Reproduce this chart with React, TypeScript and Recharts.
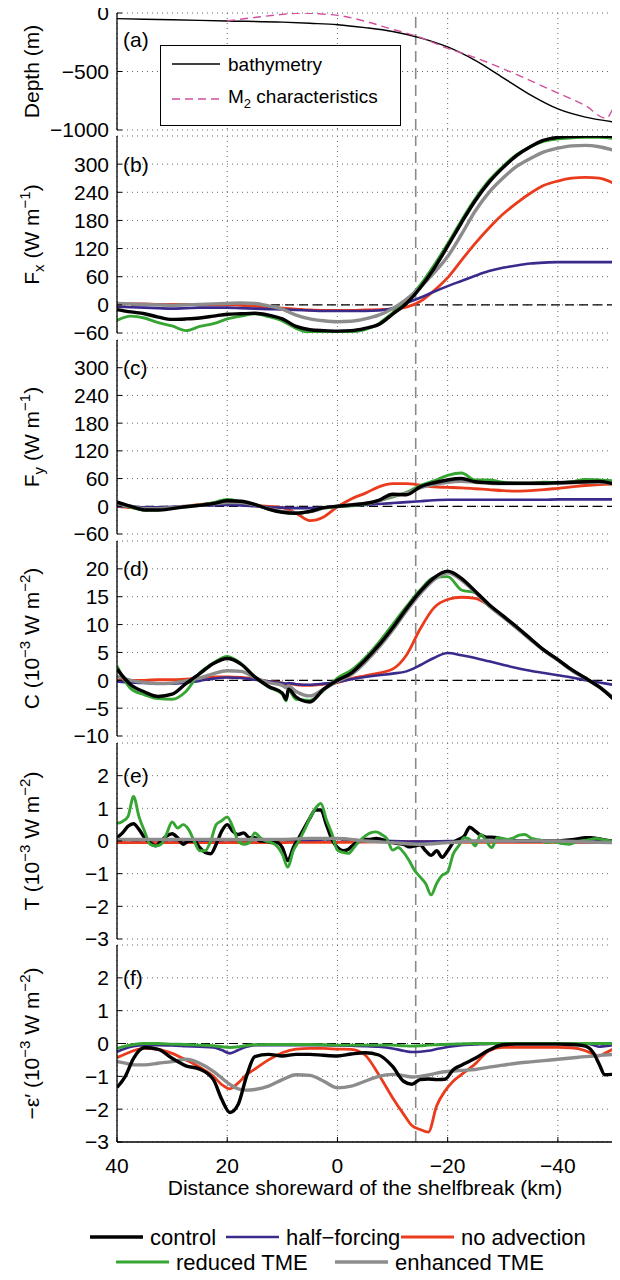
import React from 'react';
import { LineChart, Line, XAxis, YAxis, CartesianGrid, ReferenceLine, ReferenceDot } from 'recharts';

const FONT = '"Liberation Sans", Arial, Helvetica, sans-serif';
const MINUS = '\u2212';

// distance shoreward of the shelfbreak (km)
const xTicks = [40, 20, 0, -20, -40];
const shelfbreakKm = -14.2;

// (a) depth profile
const bathyKm = [40, 30, 20, 10, 5, 0, -5, -10, -15, -20, -25, -30, -35, -40, -45, -50];
const bathyDepth = [-48, -58, -68, -78, -88, -100, -125, -158, -212, -290, -405, -552, -700, -820, -890, -930];
const m2Km = [20, 15, 10, 6.5, 3, 0, -5, -10, -14.2, -20, -25, -30, -35, -40, -45, -48.7, -50];
const m2Depth = [-68, -38, -12, 0, -8, -20, -70, -140, -195, -302, -382, -475, -578, -684, -792, -900, -815];

// (b),(c) energy flux, W/m
const fluxKm = [40, 37.5, 35, 32.5, 30, 27.5, 25, 22.5, 20, 17.5, 15, 12.5, 10, 7.5, 5, 2.5, 0, -2.5, -5, -7.5, -10, -12.5, -15, -17.5, -20, -22.5, -25, -27.5, -30, -32.5, -35, -37.5, -40, -42.5, -45, -47.5, -50];
const fxControl = [-10, -15, -19, -26, -31, -30, -28, -24, -20, -19, -18, -22, -30, -46, -53, -55, -56, -55, -50, -42, -20, 3, 36, 77, 125, 175, 222, 261, 292, 318, 337, 351, 357, 359, 360, 360, 359];
const fxHalf = [-4, -5, -6, -7, -8, -7, -6, -6, -6, -7, -8, -9, -10, -11, -12, -13, -13, -13, -13, -12, -7, 4, 15, 28, 40, 51, 62, 72, 79, 84, 88, 90, 91, 91, 91, 91, 91];
const fxNoAdv = [2, 2, 2, 1, 1, 1, 0, 0, 0, -1, -3, -5, -7, -9, -11, -12, -12, -12, -11, -10, -9, -5, 7, 30, 58, 95, 131, 164, 193, 217, 238, 255, 264, 270, 272, 270, 260];
const fxReduced = [-33, -24, -28, -38, -45, -55, -46, -40, -30, -24, -19, -25, -34, -50, -59, -60, -60, -58, -53, -40, -17, 8, 42, 84, 130, 180, 226, 265, 295, 320, 337, 349, 354, 356, 357, 357, 355];
const fxEnhanced = [3, 2, 1, 0, -1, 0, 1, 2, 3, 4, 3, -2, -9, -22, -30, -34, -36, -35, -30, -22, -8, 12, 37, 68, 103, 150, 200, 240, 270, 295, 312, 326, 334, 339, 340, 337, 330];

const fyControl = [9, 0, -8, -8, -5, -1, 2, 6, 12, 11, 4, -6, -13, -15, -11, -3, 0, 3, 6, 13, 26, 25, 42, 51, 57, 60, 53, 51, 50, 50, 50, 50, 51, 52, 53, 54, 49];
const fyHalf = [0, -1, -2, -2, -1, 0, 1, 2, 3, 2, 0, -2, -3, -4, -4, -3, -1, 1, 3, 5, 7, 9, 11, 13, 14, 14, 14, 14, 14, 14, 14, 14, 15, 15, 15, 15, 15];
const fyNoAdv = [0, -3, -5, -5, -3, 0, 4, 7, 8, 5, 2, 0, -3, -15, -31, -23, -1, 16, 28, 42, 49, 49, 46, 42, 41, 40, 38, 36, 34, 33, 34, 36, 39, 42, 45, 47, 48];
const fyReduced = [5, -2, -8, -8, -4, -1, 3, 8, 15, 10, 4, -6, -13, -15, -11, -4, -1, 1, 4, 12, 20, 30, 45, 55, 67, 72, 57, 57, 52, 50, 50, 52, 51, 53, 58, 57, 55];
const fyEnhanced = [4, 0, -5, -5, -3, 0, 2, 5, 8, 8, 3, -5, -11, -14, -12, -4, 0, 3, 6, 12, 22, 28, 40, 47, 52, 54, 52, 50, 49, 49, 49, 49, 50, 51, 52, 52, 50];

// (d) conversion, 1e-3 W/m2
const convKm = [40, 37.5, 35, 32.5, 30, 27.5, 25, 22.5, 20, 17.5, 15, 12.5, 10, 9.3, 8.9, 7.5, 5, 2.5, 0, -2.5, -5, -7.5, -10, -12.5, -15, -17.5, -20, -22.5, -25, -27.5, -30, -32.5, -35, -37.5, -40, -42.5, -45, -47.5, -50];
const cControl = [2.0, -0.8, -2.1, -2.9, -2.5, -0.6, 1.2, 3.0, 3.9, 2.9, 0.6, -1.1, -2.3, -3.4, -1.6, -3.0, -3.9, -1.6, 0.0, 1.3, 3.6, 6.3, 9.4, 12.8, 15.9, 18.4, 19.6, 18.3, 16.0, 13.6, 11.6, 9.6, 7.5, 5.4, 3.7, 1.9, 0.4, -1.2, -3.3];
const cHalf = [-0.2, -0.4, -0.5, -0.6, -0.6, -0.4, -0.1, 0.3, 0.5, 0.4, 0.1, -0.2, -0.5, -0.6, -0.5, -0.7, -0.8, -0.6, -0.3, 0.2, 0.6, 0.9, 1.2, 1.6, 2.7, 4.0, 4.9, 4.5, 4.0, 3.4, 2.8, 2.2, 1.7, 1.3, 0.9, 0.5, 0.0, -0.4, -0.8];
const cNoAdv = [0.0, 0.0, 0.0, 0.1, 0.1, 0.2, 0.4, 0.6, 0.6, 0.5, 0.2, -0.2, -0.5, -0.9, -0.6, -0.8, -0.9, -0.7, -0.4, 0.3, 0.8, 1.3, 2.0, 4.5, 9.2, 13.0, 14.5, 14.9, 14.7, 13.4, 11.5, 9.5, 7.4, 5.4, 3.7, 1.9, 0.4, -1.2, -3.2];
const cReduced = [2.6, -1.5, -2.6, -3.3, -3.4, -2.0, 1.3, 3.1, 4.3, 3.0, 0.6, -1.2, -2.5, -3.7, -1.8, -3.4, -3.6, -1.8, 0.4, 1.8, 4.0, 6.8, 10.0, 13.2, 16.2, 18.4, 18.6, 16.2, 15.7, 13.3, 11.4, 9.4, 7.4, 5.4, 3.6, 1.8, 0.4, -1.2, -3.1];
const cEnhanced = [0.7, 0.0, -0.4, -0.6, -0.5, -0.1, 0.4, 1.2, 1.7, 1.6, 0.5, -0.4, -0.9, -1.3, -1.0, -2.0, -2.8, -1.6, -0.2, 1.0, 3.2, 5.9, 9.0, 12.4, 15.5, 18.0, 19.3, 18.0, 15.8, 13.4, 11.4, 9.4, 7.3, 5.3, 3.6, 1.8, 0.3, -1.2, -3.1];

// (e) transfer, 1e-3 W/m2 (noisy runs on a 1 km grid)
const tFineKm = [40, 39, 38, 37, 36, 35, 34, 33, 32, 31, 30, 29, 28, 27, 26, 25, 24, 23, 22, 21, 20, 19, 18, 17, 16, 15, 14, 13, 12, 11, 10, 9, 8, 7, 6, 5, 4, 3, 2, 1, 0, -1, -2, -3, -4, -5, -6, -7, -8, -9, -10, -11, -12, -13, -14, -15, -16, -17, -18, -19, -20, -21, -22, -23, -24, -25, -26, -27, -28, -29, -30, -31, -32, -33, -34, -35, -36, -37, -38, -39, -40, -41, -42, -43, -44, -45, -46, -47, -48, -49, -50];
const tControl = [
  0.1, 0.25, 0.45, 0.53, 0.35, 0.1, -0.05, -0.15, 0.0, 0.15,
  0.22, 0.1, -0.1, 0.0, 0.0, -0.2, -0.35, -0.39, -0.1, 0.3,
  0.5, 0.3, 0.2, 0.25, 0.1, 0.1, 0.0, 0.0, -0.05, -0.05,
  -0.2, -0.6, -0.2, 0.1, 0.4, 0.7, 0.95, 0.95, 0.5, 0.05,
  -0.2, -0.3, -0.25, -0.1, 0.0, 0.05, 0.05, 0.08, 0.05, 0.0,
  -0.05, -0.08, -0.1, -0.18, -0.15, -0.12, -0.3, -0.44, -0.3, -0.5,
  -0.3, -0.05, 0.05, 0.15, 0.42, 0.3, 0.18, 0.12, 0.12, 0.1,
  0.05, 0.03, 0.02, 0.0, 0.0, 0.0, 0.0, 0.0, 0.0, 0.0,
  0.0, 0.02, 0.03, 0.05, 0.08, 0.1, 0.1, 0.08, 0.05, 0.02,
  0.0,
];
const tReduced = [
  0.54, 0.6, 0.75, 1.36, 0.74, 0.3, -0.1, -0.15, -0.1, 0.22,
  0.58, 0.4, 0.5, 0.35, 0.0, -0.3, -0.3, 0.0, 0.5, 0.62,
  0.74, 0.43, 0.0, -0.1, -0.05, 0.25, 0.1, 0.0, -0.05, -0.15,
  -0.4, -0.8, -0.29, 0.0, 0.33, 0.7, 1.0, 1.15, 0.65, 0.22,
  -0.28, -0.35, -0.38, -0.2, 0.0, 0.15, 0.25, 0.28, 0.2, 0.07,
  -0.28, -0.2, -0.35, -0.6, -0.9, -1.1, -1.3, -1.65, -1.3, -1.05,
  -0.95, -0.4, -0.15, 0.1, 0.05, -0.15, 0.2, 0.0, -0.2, 0.1,
  0.08, 0.05, 0.1, 0.18, 0.2, 0.1, 0.05, 0.02, -0.05, -0.02,
  -0.05, -0.08, -0.1, -0.05, 0.0, 0.02, 0.05, 0.08, 0.05, 0.02,
  0.0,
];
const tCoarseKm = [40, 35, 30, 25, 20, 15, 10, 5, 0, -5, -10, -15, -20, -25, -30, -35, -40, -45, -50];
const tHalf = [0.05, 0.03, 0.03, 0.02, 0.03, 0.03, 0.03, 0.03, 0.06, 0.02, 0.0, -0.02, 0.0, 0.0, 0.0, 0.0, 0.0, 0.0, 0.0];
const tNoAdv = [-0.05, -0.05, -0.05, -0.05, -0.05, -0.05, -0.05, -0.04, -0.04, -0.03, -0.02, -0.02, -0.03, -0.04, -0.04, -0.04, -0.04, -0.05, -0.05];
const tEnhanced = [0.05, 0.05, 0.05, 0.05, 0.05, 0.05, 0.05, 0.08, 0.08, 0.0, -0.05, -0.1, -0.05, 0.0, 0.0, 0.0, 0.0, -0.03, -0.05];

// (f) dissipation, 1e-3 W/m2
const dissKm = [40, 38.5, 37, 35, 32.5, 30, 27.5, 25, 22.5, 21, 19.5, 18, 16.5, 15, 12.5, 10, 7.5, 5, 2.5, 0, -2.5, -5, -7.5, -10, -12, -13.5, -15, -16.5, -18, -19.5, -21, -22.5, -25, -27.5, -30, -32.5, -35, -37.5, -40, -42.5, -45, -46.5, -47.5, -48.5, -50];
const eControl = [-1.34, -1.0, -0.45, -0.12, -0.18, -0.45, -0.68, -0.78, -1.1, -1.7, -2.1, -1.85, -1.0, -0.4, -0.33, -0.38, -0.33, -0.33, -0.36, -0.38, -0.32, -0.28, -0.35, -0.7, -1.15, -1.24, -1.1, -1.08, -1.1, -1.09, -0.8, -0.66, -0.45, -0.2, -0.04, -0.02, -0.02, -0.02, -0.02, -0.03, -0.08, -0.3, -0.63, -0.95, -0.94];
const eHalf = [-0.25, -0.15, -0.08, -0.05, -0.05, -0.06, -0.08, -0.1, -0.12, -0.2, -0.3, -0.2, -0.1, -0.05, -0.05, -0.05, -0.05, -0.05, -0.05, -0.06, -0.07, -0.08, -0.1, -0.15, -0.22, -0.26, -0.25, -0.22, -0.17, -0.12, -0.08, -0.05, -0.03, -0.01, 0, 0, 0, 0, 0, 0, 0, -0.05, -0.1, -0.08, -0.05];
const eNoAdv = [-0.43, -0.32, -0.22, -0.15, -0.18, -0.3, -0.5, -0.72, -1.0, -1.25, -1.38, -1.2, -0.95, -0.78, -0.5, -0.28, -0.17, -0.15, -0.15, -0.17, -0.18, -0.35, -0.95, -1.65, -2.15, -2.5, -2.62, -2.7, -1.9, -1.45, -1.15, -0.95, -0.62, -0.22, -0.12, -0.12, -0.12, -0.12, -0.12, -0.13, -0.22, -0.33, -0.38, -0.3, -0.17];
const eReduced = [-0.15, -0.08, -0.03, 0, 0, -0.02, -0.03, -0.05, -0.07, -0.1, -0.12, -0.1, -0.06, -0.04, -0.03, -0.03, -0.03, -0.03, -0.04, -0.05, -0.05, -0.05, -0.05, -0.05, -0.07, -0.08, -0.07, -0.05, -0.04, -0.03, -0.02, -0.01, 0, 0, 0, 0, 0, 0, 0, 0, 0, 0, 0, 0, 0];
const eEnhanced = [-0.55, -0.6, -0.65, -0.65, -0.6, -0.55, -0.48, -0.6, -0.85, -1.05, -1.25, -1.38, -1.42, -1.4, -1.3, -1.1, -0.95, -0.97, -1.15, -1.35, -1.3, -1.15, -1.0, -0.94, -0.98, -1.02, -1.0, -0.96, -0.9, -0.86, -0.84, -0.82, -0.79, -0.72, -0.66, -0.6, -0.56, -0.52, -0.48, -0.44, -0.4, -0.38, -0.36, -0.35, -0.33];

const fluxTicks = [-60, 0, 60, 120, 180, 240, 300];
const convTicks = [-10, -5, 0, 5, 10, 15, 20];
const smallTicks = [-3, -2, -1, 0, 1, 2];

type RunKey = 'control' | 'half' | 'noAdv' | 'reduced' | 'enhanced';

const RUNS: Record<RunKey, { name: string; color: string; width: number }> = {
  control: { name: 'control', color: '#000000', width: 3.4 },
  half: { name: 'half\u2212forcing', color: '#3a2a8c', width: 2.6 },
  noAdv: { name: 'no advection', color: '#ea3b1c', width: 2.8 },
  reduced: { name: 'reduced TME', color: '#37a534', width: 2.9 },
  enhanced: { name: 'enhanced TME', color: '#8c8c8c', width: 3.4 },
};

const pts = (km: number[], v: number[]) => km.map((x, i) => ({ x, y: v[i] }));
const fmt = (v: number) => String(v).replace('-', MINUS);

// chart geometry (container starts at page 8,8)
const CHART_W = 612;
const AXIS_W = 109;
const MT = 14;
const MB = 14;

type LineSpec = { id: string; km: number[]; v: number[]; color: string; width: number; dash?: string };

const runLine = (run: RunKey, km: number[], v: number[]): LineSpec => ({
  id: run, km, v, color: RUNS[run].color, width: RUNS[run].width,
});

const Empty = () => <g />;

const unit = (
  <>
    <tspan> (10</tspan>
    <tspan dy={-9} fontSize={15}>{MINUS}3</tspan>
    <tspan dy={9}> W m</tspan>
    <tspan dy={-9} fontSize={15}>{MINUS}2</tspan>
    <tspan dy={9}>)</tspan>
  </>
);

const fluxUnit = (
  <>
    <tspan dy={-5}> (W m</tspan>
    <tspan dy={-9} fontSize={15}>{MINUS}1</tspan>
    <tspan dy={9}>)</tspan>
  </>
);

type PanelSpec = {
  letter: string;
  letterY: number;
  top: number;
  bottom: number;
  domain: [number, number];
  ticks: number[];
  zero: boolean;
  title: React.ReactNode;
  lines: LineSpec[];
};

const panels: PanelSpec[] = [
  {
    letter: '(a)', letterY: -230, top: 13, bottom: 130, domain: [-1000, 0], ticks: [-1000, -500, 0], zero: false,
    title: <>Depth (m)</>,
    lines: [
      { id: 'bathy', km: bathyKm, v: bathyDepth, color: '#000000', width: 1.4 },
      { id: 'm2', km: m2Km, v: m2Depth, color: '#d0509e', width: 1.4, dash: '8 5' },
    ],
  },
  {
    letter: '(b)', letterY: 300, top: 136, bottom: 333, domain: [-60, 360], ticks: fluxTicks, zero: true,
    title: <>F<tspan dy={5} fontSize={15}>x</tspan>{fluxUnit}</>,
    lines: [
      runLine('noAdv', fluxKm, fxNoAdv), runLine('half', fluxKm, fxHalf), runLine('reduced', fluxKm, fxReduced),
      runLine('enhanced', fluxKm, fxEnhanced), runLine('control', fluxKm, fxControl),
    ],
  },
  {
    letter: '(c)', letterY: 300, top: 340, bottom: 534, domain: [-60, 360], ticks: fluxTicks, zero: true,
    title: <>F<tspan dy={5} fontSize={15}>y</tspan>{fluxUnit}</>,
    lines: [
      runLine('noAdv', fluxKm, fyNoAdv), runLine('half', fluxKm, fyHalf), runLine('reduced', fluxKm, fyReduced),
      runLine('enhanced', fluxKm, fyEnhanced), runLine('control', fluxKm, fyControl),
    ],
  },
  {
    letter: '(d)', letterY: 20, top: 541, bottom: 736, domain: [-10, 25], ticks: convTicks, zero: true,
    title: <>C{unit}</>,
    lines: [
      runLine('noAdv', convKm, cNoAdv), runLine('half', convKm, cHalf), runLine('reduced', convKm, cReduced),
      runLine('enhanced', convKm, cEnhanced), runLine('control', convKm, cControl),
    ],
  },
  {
    letter: '(e)', letterY: 2, top: 743, bottom: 939, domain: [-3, 3], ticks: smallTicks, zero: true,
    title: <>T{unit}</>,
    lines: [
      runLine('noAdv', tCoarseKm, tNoAdv), runLine('half', tCoarseKm, tHalf), runLine('control', tFineKm, tControl),
      runLine('reduced', tFineKm, tReduced), runLine('enhanced', tCoarseKm, tEnhanced),
    ],
  },
  {
    letter: '(f)', letterY: 2, top: 945, bottom: 1142, domain: [-3, 3], ticks: smallTicks, zero: true,
    title: <>{MINUS}{'\u03b5\u2032'}{unit}</>,
    lines: [
      runLine('noAdv', dissKm, eNoAdv), runLine('half', dissKm, eHalf), runLine('reduced', dissKm, eReduced),
      runLine('enhanced', dissKm, eEnhanced), runLine('control', dissKm, eControl),
    ],
  },
];

const tickFont = { fontSize: 21, fill: '#000', fontFamily: FONT };

function Panel({ p, last }: { p: PanelSpec; last: boolean }) {
  const plotH = p.bottom - p.top;
  const xAxisH = last ? 70 : 0;
  const height = MT + plotH + xAxisH + MB;
  const cy = MT + plotH / 2;
  return (
    <div style={{ position: 'absolute', left: 0, top: p.top - 8 - MT }}>
      <LineChart width={CHART_W} height={height} margin={{ top: MT, right: 7, bottom: MB, left: 0 }}>
        <CartesianGrid stroke="#666" strokeDasharray="1 4" strokeWidth={1} />
        <XAxis
          dataKey="x" type="number" domain={[-50, 40]} reversed allowDataOverflow ticks={xTicks}
          height={xAxisH} tickSize={-5} tickMargin={21} interval={0}
          tick={last ? tickFont : Empty} tickFormatter={fmt}
          axisLine={{ stroke: '#000', strokeWidth: 1.3 }} tickLine={{ stroke: '#000' }}
          label={last ? {
            content: () => (
              <text x={(AXIS_W + CHART_W - 7) / 2} y={MT + plotH + 53} textAnchor="middle" fontSize={21} fontFamily={FONT} fill="#000">
                Distance shoreward of the shelfbreak (km)
              </text>
            ),
          } : undefined}
        />
        <XAxis
          xAxisId="top" orientation="top" dataKey="x" type="number" domain={[-50, 40]} reversed allowDataOverflow
          ticks={xTicks} height={0} tickSize={-5} tick={Empty}
          axisLine={{ stroke: '#000', strokeWidth: 1.3 }} tickLine={{ stroke: '#000' }}
        />
        <YAxis
          type="number" domain={p.domain} ticks={p.ticks} allowDataOverflow width={AXIS_W} interval={0}
          tickSize={-5} tickMargin={13} tick={tickFont} tickFormatter={fmt}
          axisLine={{ stroke: '#000', strokeWidth: 1.3 }} tickLine={{ stroke: '#000' }}
          label={{
            content: () => (
              <text x={31} y={cy} transform={`rotate(-90 31 ${cy})`} textAnchor="middle" fontSize={21} fontFamily={FONT} fill="#000">
                {p.title}
              </text>
            ),
          }}
        />
        <YAxis
          yAxisId="right" orientation="right" type="number" domain={p.domain} ticks={p.ticks} allowDataOverflow
          width={0} tickSize={-5} tick={Empty}
          axisLine={{ stroke: '#000', strokeWidth: 1.3 }} tickLine={{ stroke: '#000' }}
        />
        {p.zero && <ReferenceLine y={0} stroke="#000" strokeDasharray="9 5" strokeWidth={1.2} />}
        <ReferenceLine x={shelfbreakKm} stroke="#8a8a8a" strokeDasharray="11 6" strokeWidth={1.6} />
        {p.lines.map((l) => (
          <Line
            key={l.id}
            data={pts(l.km, l.v)}
            dataKey="y"
            type="monotone"
            stroke={l.color}
            strokeWidth={l.width}
            strokeDasharray={l.dash}
            dot={false}
            activeDot={false}
            isAnimationActive={false}
          />
        ))}
        <ReferenceDot
          x={40} y={p.letterY} r={0} fill="none" stroke="none"
          label={{ value: p.letter, position: 'right', offset: 6, fontSize: 21, fill: '#000', fontFamily: FONT }}
        />
      </LineChart>
    </div>
  );
}

function DepthLegend() {
  return (
    <svg width={242} height={82} style={{ position: 'absolute', left: 152, top: 37 }}>
      <rect x={0.5} y={0.5} width={240} height={80} fill="#fff" stroke="#000" strokeWidth={1} />
      <line x1={12} x2={60} y1={19} y2={19} stroke="#000" strokeWidth={1.4} />
      <text x={68} y={26} fontSize={19} fontFamily={FONT} fill="#000">bathymetry</text>
      <line x1={12} x2={60} y1={54} y2={54} stroke="#d0509e" strokeWidth={1.4} strokeDasharray="8 5" />
      <text x={68} y={58} fontSize={19} fontFamily={FONT} fill="#000">
        M<tspan dy={5} fontSize={13}>2</tspan><tspan dy={-5}> characteristics</tspan>
      </text>
    </svg>
  );
}

const legendRows: { run: RunKey; x: number }[][] = [
  [{ run: 'control', x: 82 }, { run: 'half', x: 218 }, { run: 'noAdv', x: 393 }],
  [{ run: 'reduced', x: 108 }, { run: 'enhanced', x: 327 }],
];

function RunLegend() {
  return (
    <svg width={612} height={52} style={{ position: 'absolute', left: 0, top: 1216 }}>
      {legendRows.map((row, r) =>
        row.map(({ run, x }) => {
          const y = 13 + r * 25;
          return (
            <g key={run}>
              <line x1={x} x2={x + 53} y1={y} y2={y} stroke={RUNS[run].color} strokeWidth={RUNS[run].width} />
              <text x={x + 60} y={y + 8} fontSize={22} fontFamily={FONT} fill="#000">{RUNS[run].name}</text>
            </g>
          );
        }),
      )}
    </svg>
  );
}

export default function App() {
  return (
    <div style={{ position: 'relative', width: CHART_W, height: 1264, fontFamily: FONT }}>
      {panels.map((p, i) => (
        <Panel key={p.letter} p={p} last={i === panels.length - 1} />
      ))}
      <DepthLegend />
      <RunLegend />
    </div>
  );
}
